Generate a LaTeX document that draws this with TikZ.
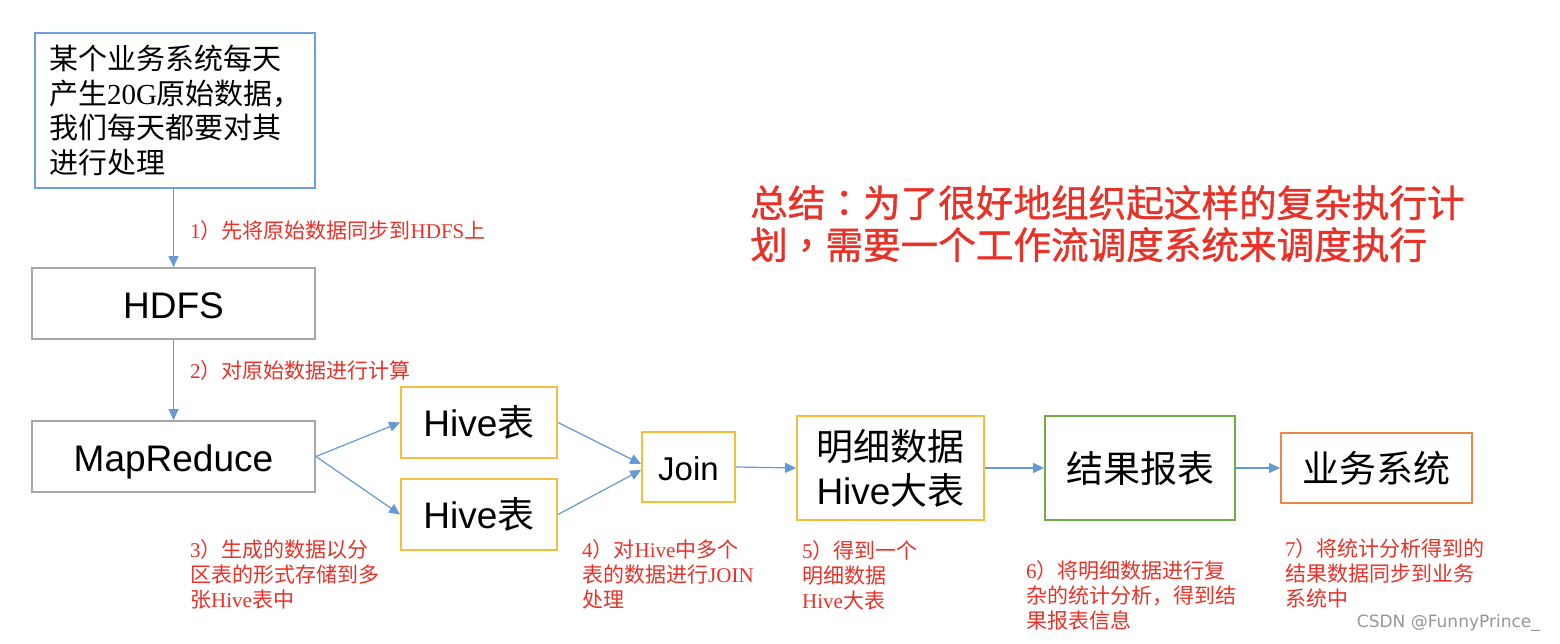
\documentclass[tikz,border=0pt]{standalone}
\usepackage{fontspec}
\setmainfont{Liberation Serif}
\setsansfont{Liberation Sans}
\newfontfamily\cjk{Noto Sans CJK SC}
\newfontfamily\cjkbold{Noto Sans CJK SC}[FakeBold=1.0]
\newfontfamily\cjktcbold{Noto Sans CJK TC}[FakeBold=1.0]
\newfontfamily\wmfont{DejaVu Sans}
\newcommand\C[1]{{\cjk #1}}
\newcommand\CP[1]{{\cjktcbold #1}}
\usetikzlibrary{arrows.meta,calc}
\definecolor{boxblue}{RGB}{111,160,220}
\definecolor{boxgray}{RGB}{166,166,166}
\definecolor{boxyellow}{RGB}{245,190,60}
\definecolor{boxgreen}{RGB}{112,173,71}
\definecolor{boxorange}{RGB}{234,135,75}
\definecolor{arrblue}{RGB}{100,155,215}
\definecolor{labred}{RGB}{232,50,40}
\definecolor{wmgray}{RGB}{150,150,150}
\tikzset{
  box/.style={draw, line width=1.8pt, inner sep=0pt, align=center,
    font=\sffamily\fontsize{37}{44}\selectfont},
  arr/.style={draw=arrblue, line width=1.2pt, -{Triangle[length=11pt,width=10pt]}},
  lab/.style={anchor=north west, inner sep=0pt, align=left, text=labred,
    font=\fontsize{21}{25}\selectfont},
}
\begin{document}
\begin{tikzpicture}[x=1pt,y=-1pt]
\fill[white] (0,0) rectangle (1560,644);
\useasboundingbox (0,0) rectangle (1560,644);

% boxes
\node[box, draw=boxblue, minimum width=280pt, minimum height=155pt,
  text width=252pt, align=left, font=\fontsize{29}{34.5}\selectfont]
  (b1) at (175,110.5)
  {\C{某个业务系统每天}\\\C{产生}20G\C{原始数据，}\\\C{我们每天都要对其}\\\C{进行处理}};
\node[box, draw=boxgray, minimum width=283pt, minimum height=71pt,
  text height=30pt, text depth=0pt] (hdfs) at (173.5,303.5) {HDFS};
\node[box, draw=boxgray, minimum width=283pt, minimum height=71pt,
  text height=29.5pt, text depth=0pt] (mr) at (173.5,456.5) {MapReduce};
\node[box, draw=boxyellow, minimum width=156pt, minimum height=71pt] (h1) at (479,422.5) {Hive\C{表}};
\node[box, draw=boxyellow, minimum width=156pt, minimum height=71pt] (h2) at (479,514.5) {Hive\C{表}};
\node[box, draw=boxyellow, minimum width=93pt, minimum height=70pt,
  text height=26.6pt, text depth=0pt,
  font=\sffamily\fontsize{33}{40}\selectfont] (join) at (688.5,467) {Join};
\node[box, draw=boxyellow, minimum width=187pt, minimum height=104pt] (mx) at (890.5,468) {\C{明细数据}\\Hive\C{大表}};
\node[box, draw=boxgreen, minimum width=190pt, minimum height=104pt] (jg) at (1140,468) {\C{结果报表}};
\node[box, draw=boxorange, minimum width=191pt, minimum height=70pt] (yw) at (1376.5,468) {\C{业务系统}};

% connectors
\draw[arr] (hdfs.north |- b1.south) -- (hdfs.north);
\draw[arr] (hdfs.south) -- (mr.north);
\draw[arr] (mr.east) -- (h1.west);
\draw[arr] (mr.east) -- (h2.west);
\draw[arr] (h1.east) -- ($(join.west)+(0,-3)$);
\draw[arr] (h2.east) -- ($(join.west)+(0,3)$);
\draw[arr] (join.east) -- (mx.west);
\draw[arr] (mx.east) -- (jg.west);
\draw[arr] (jg.east) -- (yw.west);

% labels
\node[lab] (l1) at (190,220) {1\C{）先将原始数据同步到}HDFS\C{上}};
\node[lab] (l2) at (190,360) {2\C{）对原始数据进行计算}};
\node[lab] (l3) at (190,539) {3\C{）生成的数据以分}\\\C{区表的形式存储到多}\\\C{张}Hive\C{表中}};
\node[lab] (l4) at (582,539) {4\C{）对}Hive\C{中多个}\\\C{表的数据进行}JOIN\\\C{处理}};
\node[lab] (l5) at (802,540) {5\C{）得到一个}\\\C{明细数据}\\Hive\C{大表}};
\node[lab] (l6) at (1026,560) {6\C{）将明细数据进行复}\\\C{杂的统计分析，得到结}\\\C{果报表信息}};
\node[lab] (l7) at (1285,538) {7\C{）将统计分析得到的}\\\C{结果数据同步到业务}\\\C{系统中}};

\node[lab, font=\cjkbold\fontsize{37.6}{42}\selectfont] (sum) at (750,185)
  {总结\CP{：}为了很好地组织起这样的复杂执行计\\划\CP{，}需要一个工作流调度系统来调度执行};

\node[anchor=east, inner sep=0pt, text=wmgray, font=\wmfont\fontsize{17}{20}\selectfont] (wm) at (1540,623) {CSDN @FunnyPrince\_};
\end{tikzpicture}
\end{document}
